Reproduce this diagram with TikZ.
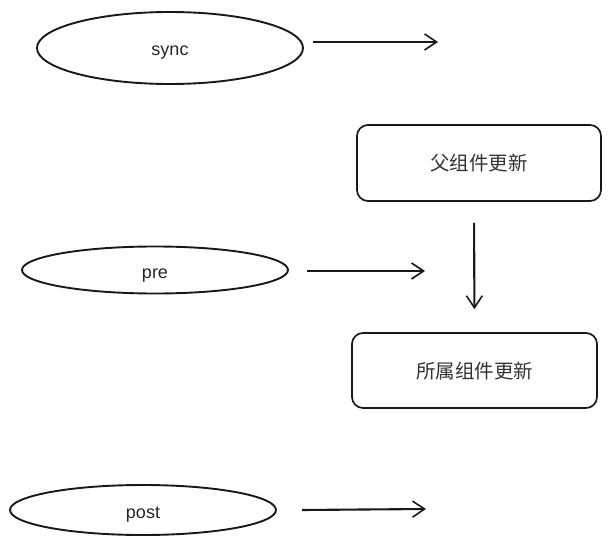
\documentclass[tikz,border=0pt]{standalone}
\usepackage{fontspec}
\setmainfont{Liberation Sans}
\newfontfamily\cjk{Noto Sans CJK SC}
\usetikzlibrary{shapes.geometric,arrows.meta}
\begin{document}
\begin{tikzpicture}[x=1pt,y=-1pt,
  oval/.style={draw=black!90,line width=1.9pt,ellipse,inner sep=0pt,text height=20pt,text depth=4pt,font=\fontsize{18}{20}\selectfont,text=black!85},
  rbox/.style={draw=black!90,line width=1.7pt,rounded corners=11pt,minimum width=244pt,minimum height=76pt,inner sep=0pt,font=\cjk\fontsize{19.5}{22}\selectfont,text=black!80},
  arr/.style={draw=black!90,line width=2.1pt,-{Straight Barb[length=12pt,width=16pt,line width=1.6pt]}}]
\useasboundingbox (0,0) rectangle (610,545);
\node[oval,minimum width=266pt,minimum height=72pt] (sync) at (170,48) {sync};
\node[oval,minimum width=266pt,minimum height=47pt] (pre) at (155,270) {pre};
\node[oval,minimum width=266pt,minimum height=50pt] (post) at (143,510) {post};
\node[rbox] (b1) at (479,163) {父组件更新};
\node[rbox,minimum width=245pt,minimum height=75pt,text height=17pt,text depth=1pt] (b2) at (474.5,370.5) {所属组件更新};
\coordinate (s1) at (313,42); \coordinate (e1) at (438,42);
\coordinate (s2) at (307,271); \coordinate (e2) at (425,271);
\coordinate (s3) at (302,510); \coordinate (e3) at (426,509);
\draw[arr] (s1) -- (e1);
\draw[arr] (s2) -- (e2);
\draw[arr] (s3) -- (e3);
\draw[arr,shorten <=21pt,shorten >=23pt] (b1.south -| 474,0) -- (b2.north);
\end{tikzpicture}
\end{document}
